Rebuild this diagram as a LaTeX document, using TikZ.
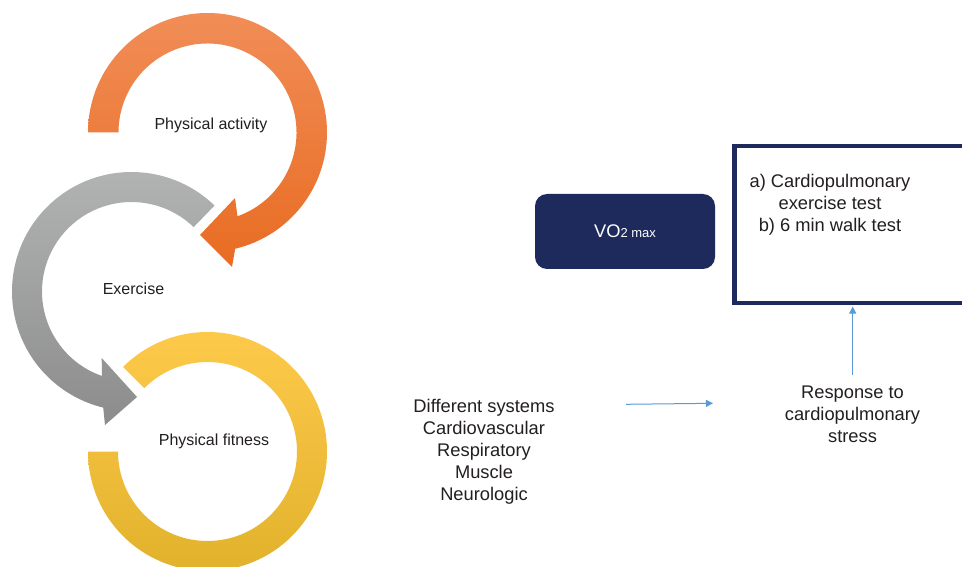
\documentclass[tikz,border=0pt]{standalone}
\usepackage{fontspec}
\setmainfont{Liberation Sans}
\usetikzlibrary{arrows.meta,calc}
\definecolor{navy}{HTML}{1F2A5C}
\definecolor{txt}{HTML}{231F20}
\definecolor{arrblue}{HTML}{5B9BD5}
\definecolor{orTop}{HTML}{F18D57}
\definecolor{orBot}{HTML}{E86C22}
\definecolor{grTop}{HTML}{B3B4B4}
\definecolor{grBot}{HTML}{8C8C8C}
\definecolor{yeTop}{HTML}{FDC94A}
\definecolor{yeMid}{HTML}{FCC312}
\definecolor{yeBot}{HTML}{E2B22C}
\begin{document}
\begin{tikzpicture}[x=1pt,y=1pt,
  lbl/.style={font=\fontsize{16}{19}\selectfont, text=txt, inner sep=0pt},
  rtxt/.style={font=\fontsize{18.3}{22}\selectfont, text=txt, align=center, inner sep=0pt},
  arr/.style={draw=arrblue, line width=1pt, -{Triangle[length=7pt,width=7pt]}},
  vobox/.style={fill=navy, rounded corners=12pt, minimum width=180pt, minimum height=75pt, inner sep=0pt, text=white, font=\fontsize{18.3}{22}\selectfont},
  testbox/.style={draw=navy, line width=4.3pt, outer sep=0pt, inner sep=0pt, minimum width=300pt, minimum height=157pt}
]
\useasboundingbox (0,0) rectangle (962,566);
\clip (0,0) rectangle (962,566);
\fill[white] (0,0) rectangle (962,566);

\coordinate (O1) at (207.5,433.5);
\coordinate (O2) at (131.5,274.5);
\coordinate (O3) at (207.5,114.5);

% orange circular arrow
\path[top color=orTop, bottom color=orBot]
  ($(O1)+(180:119.5pt)$) arc[start angle=180,end angle=-76.6,radius=119.5pt]
  -- (232,299) -- (200,331) -- (235,368)
  -- ($(O1)+(-70.3:89pt)$) arc[start angle=-70.3,end angle=180,radius=89pt] -- cycle;

% gray circular arrow
\path[top color=grTop, bottom color=grBot]
  ($(O2)+(46:119.5pt)$) arc[start angle=46,end angle=256.3,radius=119.5pt]
  -- (105,141) -- (137,169) -- (101.7,208)
  -- ($(O2)+(250.7:89.5pt)$) arc[start angle=250.7,end angle=46,radius=89.5pt] -- cycle;

% yellow ring
\path[top color=yeTop, middle color=yeMid, bottom color=yeBot]
  ($(O3)+(180:119.5pt)$) arc[start angle=180,end angle=495,radius=119.5pt]
  -- ($(O3)+(135:89.5pt)$) arc[start angle=495,end angle=180,radius=89.5pt] -- cycle;

\node[lbl, anchor=base] (pa) at (211,436) {Physical activity};
\node[lbl, anchor=base] (ex) at (133.5,271) {Exercise};
\node[lbl, anchor=base] (pf) at (214,120.3) {Physical fitness};

\node[vobox] (vo) at (625,334.5) {VO{\fontsize{13}{15}\selectfont 2 max}};

\node[testbox, anchor=north west] (box) at (734.5,420) {};
\node[rtxt] (tests) at (830,361.3) {a) Cardiopulmonary\\exercise test\\b) 6 min walk test};

\node[rtxt] (sys) at (484,114) {Different systems\\Cardiovascular\\Respiratory\\Muscle\\Neurologic};
\node[rtxt] (resp) at (852.5,151.6) {Response to\\cardiopulmonary\\stress};

\coordinate (hs) at (626,161.7);
\coordinate (he) at (713,162.7);
\draw[arr] (hs) -- (he);

\coordinate (vs) at (852.7,191);
\draw[arr, shorten >=3.5pt] (vs) -- (vs |- box.south);
\end{tikzpicture}
\end{document}
